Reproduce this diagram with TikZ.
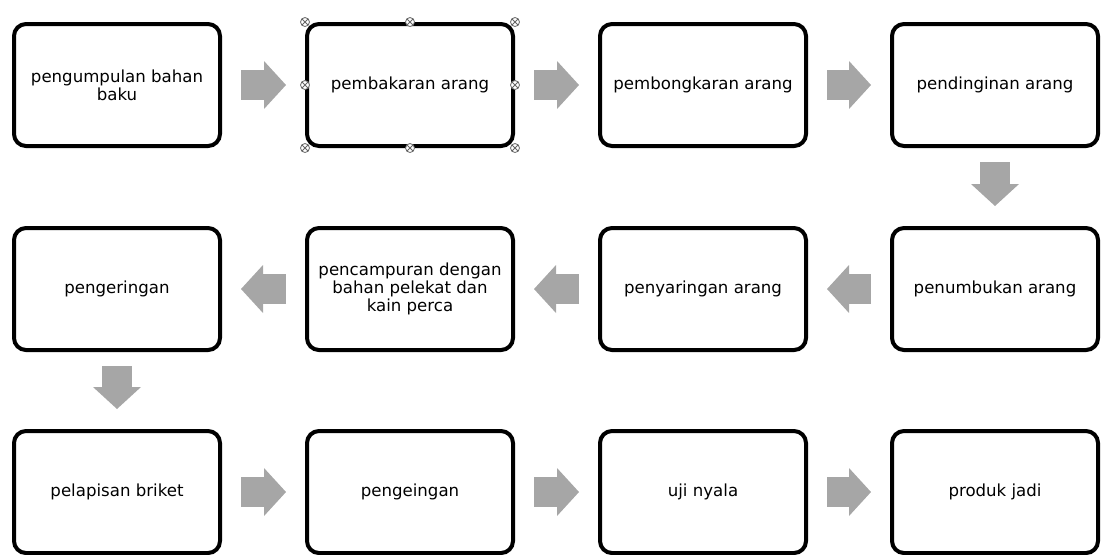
\documentclass[tikz,border=0pt]{standalone}
\usepackage{fontspec}
\setmainfont{DejaVu Sans}
\usepackage{tikz}
\usetikzlibrary{arrows.meta}

\definecolor{flowgrey}{RGB}{166,166,166}

\begin{document}
\begin{tikzpicture}[x=0.5pt, y=-0.5pt,
					stage/.style={draw, line width=2pt, rounded corners=6pt,
						fill=white, minimum width=103pt, minimum height=61pt,
						inner sep=2pt, align=center,
						font=\fontsize{8.3}{9}\selectfont},
					flow/.style={color=flowgrey, line width=15pt,
						-{Triangle[length=11pt, width=24pt, line width=0pt]},
						shorten <=9.5pt, shorten >=9.5pt},
					downflow/.style={flow, shorten <=7pt, shorten >=10pt},
					handle/.style={circle, draw=black!60, fill=white,
						line width=0.4pt, inner sep=0pt, minimum size=4.5pt,
						path picture={\draw[black!60, line width=0.4pt]
							(path picture bounding box.north west) -- (path picture bounding box.south east)
							(path picture bounding box.north east) -- (path picture bounding box.south west);}}]

	\useasboundingbox (0,0) rectangle (1101,554);

	\node[stage] (kumpul)  at (117,85)  {pengumpulan bahan\\baku};
	\node[stage] (bakar)   at (410,85)  {pembakaran arang};
	\node[stage] (bongkar) at (703,85)  {pembongkaran arang};
	\node[stage] (dingin)  at (995,85)  {pendinginan arang};
	\node[stage] (kering)  at (117,289) {pengeringan};
	\node[stage] (campur)  at (410,289) {pencampuran dengan\\bahan pelekat dan\\kain perca};
	\node[stage] (saring)  at (703,289) {penyaringan arang};
	\node[stage] (tumbuk)  at (995,289) {penumbukan arang};
	\node[stage] (lapis)   at (117,492) {pelapisan briket};
	\node[stage] (keing)   at (410,492) {pengeingan};
	\node[stage] (uji)     at (703,492) {uji nyala};
	\node[stage] (produk)  at (995,492) {produk jadi};

	\draw[flow]	(kumpul) edge (bakar)
			(bakar) edge (bongkar)
			(bongkar) edge (dingin)
			(tumbuk) edge (saring)
			(saring) edge (campur)
			(campur) edge (kering)
			(lapis) edge (keing)
			(keing) edge (uji)
			(uji) edge (produk)
;
	\draw[downflow]	(dingin) edge (tumbuk)
			(kering) edge (lapis)
;

	% selection handles round the second box
	\foreach \a in {north west, north, north east, west, east, south west, south, south east}
		\node[handle] at (bakar.\a) {};
\end{tikzpicture}
\end{document}
